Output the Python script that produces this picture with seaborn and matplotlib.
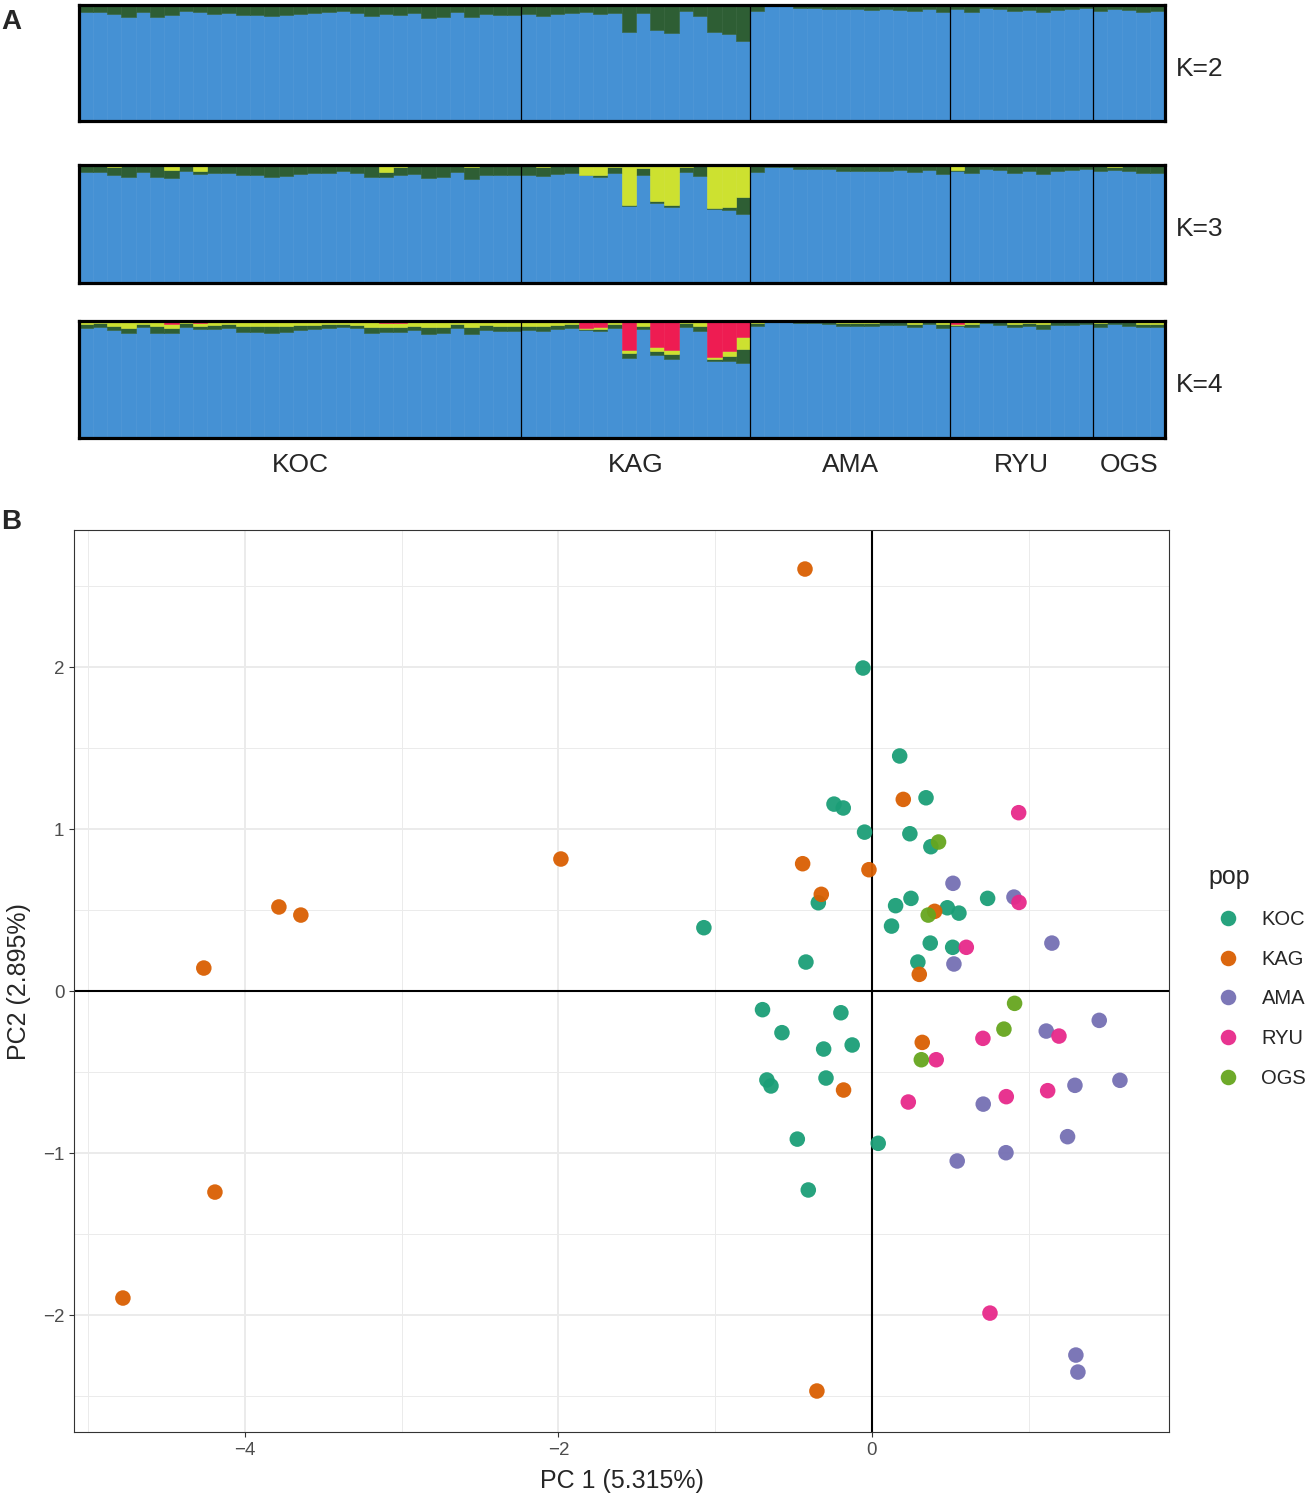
import numpy as np
import pandas as pd
import matplotlib
matplotlib.use("Agg")
import matplotlib.pyplot as plt
from matplotlib.ticker import FixedLocator
import seaborn as sns

sns.set_style("white")
plt.rcParams["font.family"] = ["Liberation Sans", "DejaVu Sans"]
plt.rcParams["axes.unicode_minus"] = True

# ---- datos ----
pops = ["KOC", "KAG", "AMA", "RYU", "OGS"]
pop_sizes = [31, 16, 14, 10, 5]

# ancestria (%) por individuo, orden KOC, KAG, AMA, RYU, OGS
k2_green = [6.6, 6.1, 7.8, 10.4, 6.1, 10.4, 9.2, 5.5, 6.6, 7.8, 6.9, 9.2, 9.2, 10.1, 9.2, 8.1,
            7.5, 6.4, 5.2, 6.9, 10.1, 8.4, 9.0, 7.5, 11.6, 10.4, 6.4, 11.0, 8.4, 8.7, 8.7,
            8.1, 9.5, 8.1, 7.5, 6.6, 8.4, 7.2, 23.4, 7.5, 22.0, 24.3, 5.5, 9.5, 24.0, 25.1, 31.2,
            5.8, 1.7, 1.7, 2.6, 2.9, 3.5, 4.3, 4.3, 4.9, 4.3, 4.6, 5.8, 3.5, 6.6,
            3.5, 6.4, 2.9, 3.5, 5.5, 4.9, 6.6, 4.6, 4.0, 3.2,
            5.2, 4.0, 4.6, 6.4, 5.8]

k3_yellow = [1.0, 1.0, 2.3, 0.5, 0.5, 0.5, 4.6, 0.5, 5.2, 0.5, 0.5, 1.4, 0.5, 0.5, 0.5, 0.5,
             0.5, 0.5, 1.4, 0.5, 1.4, 6.0, 2.3, 1.4, 0.5, 0.5, 0.5, 2.3, 0.5, 0.5, 1.4,
             1.4, 2.3, 1.4, 1.4, 8.6, 8.6, 1.7, 33.9, 2.9, 31.3, 33.9, 1.7, 1.4, 36.7, 35.6, 27.3,
             0.3, 1.1, 1.1, 0.3, 0.3, 0.3, 1.1, 0.6, 0.3, 0.3, 0.3, 0.3, 0.3, 0.3,
             4.6, 0.3, 0.3, 0.3, 1.1, 1.1, 1.1, 1.1, 0.3, 1.1,
             1.1, 1.7, 0.3, 0.3, 0.3]
k3_green = [5.7, 5.2, 6.9, 10.0, 5.5, 10.0, 6.9, 4.6, 2.9, 6.6, 6.6, 7.7, 8.6, 9.8, 8.9, 7.5,
            6.6, 6.3, 3.7, 6.3, 8.9, 4.9, 6.9, 6.9, 11.2, 10.3, 5.7, 10.0, 8.0, 8.0, 7.7,
            7.2, 7.7, 6.6, 6.0, 0.6, 2.0, 5.7, 0.9, 5.7, 1.7, 2.3, 4.6, 8.6, 0.6, 2.6, 14.6,
            6.3, 0.6, 0.9, 3.2, 3.7, 3.7, 4.0, 4.6, 5.5, 5.2, 4.6, 6.3, 4.0, 7.5,
            0.6, 7.2, 3.2, 4.0, 6.0, 4.6, 6.9, 4.0, 4.3, 2.3,
            4.6, 2.9, 5.5, 6.9, 6.6]

k4_red = [0, 0, 1.4, 0, 0, 0, 2.9, 0, 2.3, 0, 0, 0.6, 0, 0, 0, 0,
          0, 0, 0.9, 0, 0.6, 2.3, 2.3, 0, 0, 0, 0, 0.9, 0, 0, 0.6,
          0, 0, 0, 0, 6.6, 5.2, 0, 25.5, 0, 22.4, 25.3, 0.9, 0, 31.0, 25.8, 13.8,
          0, 0.3, 0, 0, 0, 0, 0, 0, 0, 0, 0, 0, 0, 0,
          3.4, 0, 0, 0, 0, 0, 0, 0, 0, 0,
          0, 0, 0, 0, 0]
k4_yellow = [3.2, 2.3, 3.2, 6.0, 3.2, 4.6, 3.7, 2.3, 2.3, 3.7, 3.2, 4.0, 4.6, 4.6, 4.3, 3.7,
             3.7, 2.9, 2.0, 3.7, 5.2, 2.9, 2.9, 4.6, 5.7, 5.2, 3.2, 4.9, 3.7, 4.3, 3.7,
             4.3, 4.6, 3.7, 3.2, 0.9, 2.3, 3.4, 2.6, 4.3, 3.4, 3.4, 1.4, 4.6, 2.0, 4.6, 10.6,
             2.3, 0, 0.3, 1.1, 1.1, 1.7, 2.3, 2.3, 2.3, 1.7, 1.7, 2.9, 1.7, 2.9,
             0.6, 2.9, 0.9, 1.7, 2.9, 2.3, 2.9, 1.7, 1.7, 1.7,
             2.3, 1.7, 1.7, 2.9, 2.9]
k4_green = [3.4, 3.4, 3.4, 4.3, 2.6, 6.3, 3.7, 3.4, 2.9, 3.7, 3.4, 4.9, 4.9, 5.7, 5.2, 4.3,
            3.7, 3.7, 2.3, 2.9, 4.6, 4.3, 4.3, 3.4, 6.0, 5.2, 3.4, 5.7, 4.3, 4.3, 4.6,
            3.7, 4.3, 3.7, 3.4, 0.6, 1.4, 3.2, 3.7, 3.2, 3.7, 4.6, 3.4, 4.3, 1.7, 4.3, 11.8,
            2.3, 0.6, 1.1, 1.1, 1.1, 1.4, 2.3, 2.3, 2.3, 2.0, 2.0, 2.9, 1.4, 3.7,
            0.3, 2.9, 1.1, 2.0, 2.9, 2.3, 4.0, 2.0, 2.0, 1.1,
            2.9, 1.4, 2.6, 2.9, 2.9]

# PCA
koc_pc1 = [0.177, 0.345, -0.242, -0.183, -0.047, 0.242, 0.376, -0.342, 0.249, 0.738, 0.151,
           0.481, 0.555, -1.072, 0.125, 0.372, 0.515, -0.421, 0.293, -0.698, -0.198, -0.574,
           -0.126, -0.308, -0.670, -0.644, -0.293, -0.476, 0.040, -0.406, -0.057]
koc_pc2 = [1.451, 1.193, 1.154, 1.130, 0.981, 0.971, 0.891, 0.545, 0.572, 0.572, 0.527,
           0.514, 0.481, 0.391, 0.401, 0.296, 0.270, 0.179, 0.179, -0.115, -0.134, -0.257,
           -0.333, -0.358, -0.549, -0.586, -0.537, -0.914, -0.940, -1.228, 1.994]
kag_pc1 = [0.200, -0.442, -0.019, -0.323, 0.400, 0.302, 0.321, -0.181, -0.427, -1.984,
           -3.783, -3.643, -4.262, -4.191, -4.778, -0.351]
kag_pc2 = [1.183, 0.786, 0.749, 0.597, 0.492, 0.103, -0.317, -0.611, 2.605, 0.815,
           0.519, 0.469, 0.142, -1.241, -1.895, -2.469]
ama_pc1 = [0.517, 1.148, 0.523, 0.906, 1.450, 1.112, 1.582, 1.295, 0.710, 1.248, 0.855,
           0.544, 1.301, 1.314]
ama_pc2 = [0.665, 0.296, 0.167, 0.580, -0.181, -0.247, -0.551, -0.582, -0.698, -0.899,
           -0.998, -1.049, -2.247, -2.352]
ryu_pc1 = [0.936, 0.938, 0.602, 1.193, 0.708, 0.410, 1.121, 0.857, 0.232, 0.753]
ryu_pc2 = [1.101, 0.547, 0.270, -0.278, -0.292, -0.424, -0.615, -0.652, -0.685, -1.988]
ogs_pc1 = [0.425, 0.359, 0.910, 0.842, 0.315]
ogs_pc2 = [0.920, 0.469, -0.076, -0.235, -0.424]

col_blue = "#4591D4"
col_green = "#2E5E34"
col_yellow = "#CDE130"
col_red = "#EE1C52"

W, H = 1308, 1494
fig = plt.figure(figsize=(W / 100, H / 100), dpi=100)


def px_axes(x0, y0, x1, y1):
    return fig.add_axes([x0 / W, 1 - y1 / H, (x1 - x0) / W, (y1 - y0) / H])


def structure_panel(ax, layers, colors):
    n = len(layers[0])
    x = np.arange(n) + 0.5
    bottom = np.zeros(n)
    for vals, c in zip(layers, colors):
        v = np.array(vals) / 100.0
        ax.bar(x, v, width=1.0, bottom=bottom, color=c, edgecolor=c, linewidth=0.4)
        bottom += v
    for b in np.cumsum(pop_sizes)[:-1]:
        ax.axvline(b, color="black", lw=0.9)
    ax.set_xlim(0, n)
    ax.set_ylim(0, 1)
    ax.set_xticks([])
    ax.set_yticks([])
    for s in ax.spines.values():
        s.set_linewidth(2.3)
        s.set_color("black")
        s.set_visible(True)


def blue_rest(*others):
    return [100 - sum(v) for v in zip(*others)]


panels = [
    ((4.5, 120.5), [blue_rest(k2_green), k2_green], [col_blue, col_green], "K=2"),
    ((164.5, 282.5), [blue_rest(k3_green, k3_yellow), k3_green, k3_yellow],
     [col_blue, col_green, col_yellow], "K=3"),
    ((320.5, 437.5), [blue_rest(k4_green, k4_yellow, k4_red), k4_green, k4_yellow, k4_red],
     [col_blue, col_green, col_yellow, col_red], "K=4"),
]
for (y0, y1), layers, colors, lab in panels:
    ax = px_axes(78.5, y0, 1164.5, y1)
    structure_panel(ax, layers, colors)
    fig.text(1176 / W, 1 - ((y0 + y1) / 2 + 6) / H, lab, fontsize=19, ha="left", va="center")

# etiquetas de poblacion
edges = np.concatenate([[0], np.cumsum(pop_sizes)])
for i, p in enumerate(pops):
    cx = 78.5 + (edges[i] + edges[i + 1]) / 2 / sum(pop_sizes) * (1164.5 - 78.5)
    fig.text(cx / W, 1 - 465 / H, p, fontsize=19, ha="center", va="center")

fig.text(1 / W, 1 - 22 / H, "A", fontsize=20, fontweight="bold", ha="left", va="center")
fig.text(1 / W, 1 - 522 / H, "B", fontsize=20, fontweight="bold", ha="left", va="center")

# ---- PCA ----
df = pd.DataFrame({
    "PC1": koc_pc1 + kag_pc1 + ama_pc1 + ryu_pc1 + ogs_pc1,
    "PC2": koc_pc2 + kag_pc2 + ama_pc2 + ryu_pc2 + ogs_pc2,
    "pop": (["KOC"] * len(koc_pc1) + ["KAG"] * len(kag_pc1) + ["AMA"] * len(ama_pc1)
            + ["RYU"] * len(ryu_pc1) + ["OGS"] * len(ogs_pc1)),
})

axp = px_axes(74, 530, 1169, 1432)
axp.set_axisbelow(True)
axp.xaxis.set_major_locator(FixedLocator([-4, -2, 0]))
axp.xaxis.set_minor_locator(FixedLocator([-5, -3, -1, 1]))
axp.yaxis.set_major_locator(FixedLocator([-2, -1, 0, 1, 2]))
axp.yaxis.set_minor_locator(FixedLocator([-2.5, -1.5, -0.5, 0.5, 1.5, 2.5]))
axp.grid(True, which="major", color="#EBEBEB", lw=1.4)
axp.grid(True, which="minor", color="#EBEBEB", lw=0.7)
axp.axhline(0, color="black", lw=1.5, zorder=1)
axp.axvline(0, color="black", lw=1.5, zorder=1)

sns.scatterplot(data=df, x="PC1", y="PC2", hue="pop", hue_order=pops,
                palette=sns.color_palette("Dark2", 5), s=125, alpha=0.95,
                linewidth=0, ax=axp, zorder=3)

axp.set_xlim(-5.09, 1.895)
axp.set_ylim(-2.722, 2.846)
axp.tick_params(which="major", length=3.5, width=0.8, color="#333333",
                labelcolor="#4D4D4D", labelsize=13.5, left=True, bottom=True)
axp.tick_params(which="minor", length=0)
for s in axp.spines.values():
    s.set_color("#333333")
    s.set_linewidth(0.8)

axp.set_xlabel("PC 1 (5.315%)", fontsize=18)
axp.set_ylabel("PC2 (2.895%)", fontsize=18)
axp.xaxis.set_label_coords((622 - 74) / 1095, (1432 - 1481) / 902)
axp.xaxis.label.set_va("center")
axp.yaxis.set_label_coords((19 - 74) / 1095, (1432 - 982) / 902)
axp.yaxis.label.set_va("center")

handles, labels = axp.get_legend_handles_labels()
axp.legend_.remove()
leg = fig.legend(handles, labels, title="pop", loc="upper left",
                 bbox_to_anchor=(1190 / W, 1 - 847 / H), bbox_transform=fig.transFigure,
                 frameon=False, fontsize=14.5, title_fontsize=18, labelspacing=1.03,
                 handletextpad=0.65, alignment="left")

fig.savefig("out.png", dpi=100)
